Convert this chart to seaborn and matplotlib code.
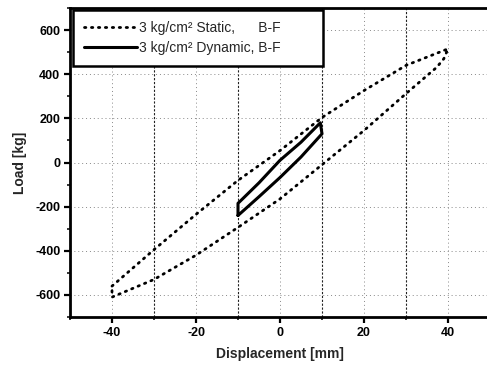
"""Load vs displacement hysteresis loops, static and dynamic."""

import matplotlib

matplotlib.use("Agg")
import matplotlib.pyplot as plt
import pandas as pd
import seaborn as sns
from matplotlib.ticker import MultipleLocator

# Static loop: upper branch (going right), then lower branch (coming back).
static_x = [-40, -30, -20, -10, 0, 10, 20, 30, 40,
            39, 37.3, 30, 20, 10, 0, -10, -20, -30, -40, -40]
static_y = [-560, -395, -235, -81, 54, 204, 326, 440, 515,
            470, 431, 312, 145, -10, -165, -294, -420, -530, -610, -560]

# Dynamic loop.
dynamic_x = [-10, -10, -5, 0, 5, 9.6, 10, 5, 0, -5, -10]
dynamic_y = [-240, -185, -92, 10, 92, 180, 130, 25, -68, -155, -240]

static_label = "3 kg/cm² Static,      B-F"
dynamic_label = "3 kg/cm² Dynamic, B-F"

sns.set_style("ticks")
plt.rcParams["font.family"] = ["Liberation Sans", "DejaVu Sans"]
plt.rcParams["axes.unicode_minus"] = False

fig = plt.figure(figsize=(4.87, 3.68), dpi=100)
ax = fig.add_axes([70 / 487, 1 - 317 / 368, 420 / 487, 309 / 368])

static = pd.DataFrame({"x": static_x, "y": static_y})
dynamic = pd.DataFrame({"x": dynamic_x, "y": dynamic_y})

sns.lineplot(data=static, x="x", y="y", sort=False, estimator=None, color="black",
             linewidth=2.0, linestyle=(0, (0.5, 2.0)), dash_capstyle="round",
             label=static_label, ax=ax)
sns.lineplot(data=dynamic, x="x", y="y", sort=False, estimator=None, color="black",
             linewidth=2.2, label=dynamic_label, ax=ax)

ax.set_xlim(-50, 50)
ax.set_ylim(-700, 700)
ax.xaxis.set_major_locator(MultipleLocator(20))
ax.xaxis.set_minor_locator(MultipleLocator(10))
ax.yaxis.set_major_locator(MultipleLocator(200))
ax.yaxis.set_minor_locator(MultipleLocator(100))

# Grid: light dotted at major ticks, darker dashes at minor x ticks.
ax.grid(which="major", axis="both", color="#888888", linestyle=(0, (1, 3)), linewidth=0.7)
ax.grid(which="minor", axis="x", color="#222222", linestyle=(0, (2, 1.5)), linewidth=0.8)
ax.set_axisbelow(True)

for side in ["left", "bottom", "top", "right"]:
    ax.spines[side].set_visible(True)
    ax.spines[side].set_linewidth(2.0)
    ax.spines[side].set_color("black")

ax.tick_params(which="major", direction="out", length=4, width=1.6, labelsize=9,
               colors="black", pad=3)
ax.tick_params(which="minor", direction="out", length=2.5, width=1.3)
for lab in ax.get_xticklabels() + ax.get_yticklabels():
    lab.set_fontweight("bold")

ax.set_xlabel("Displacement [mm]", fontsize=10, fontweight="bold", labelpad=6)
ax.set_ylabel("Load [kg]", fontsize=10, fontweight="bold", labelpad=6)

leg = ax.legend(loc="upper left", bbox_to_anchor=(3 / 420, 0, 250 / 420, 1 - 2 / 309),
                mode="expand", fontsize=10, frameon=True, fancybox=False,
                handlelength=3.8, borderpad=0.8, labelspacing=0.45,
                handletextpad=0.15, borderaxespad=0.0)
leg.get_frame().set_edgecolor("black")
leg.get_frame().set_linewidth(1.8)
leg.get_frame().set_alpha(1)

plt.savefig("out.png", dpi=100)
